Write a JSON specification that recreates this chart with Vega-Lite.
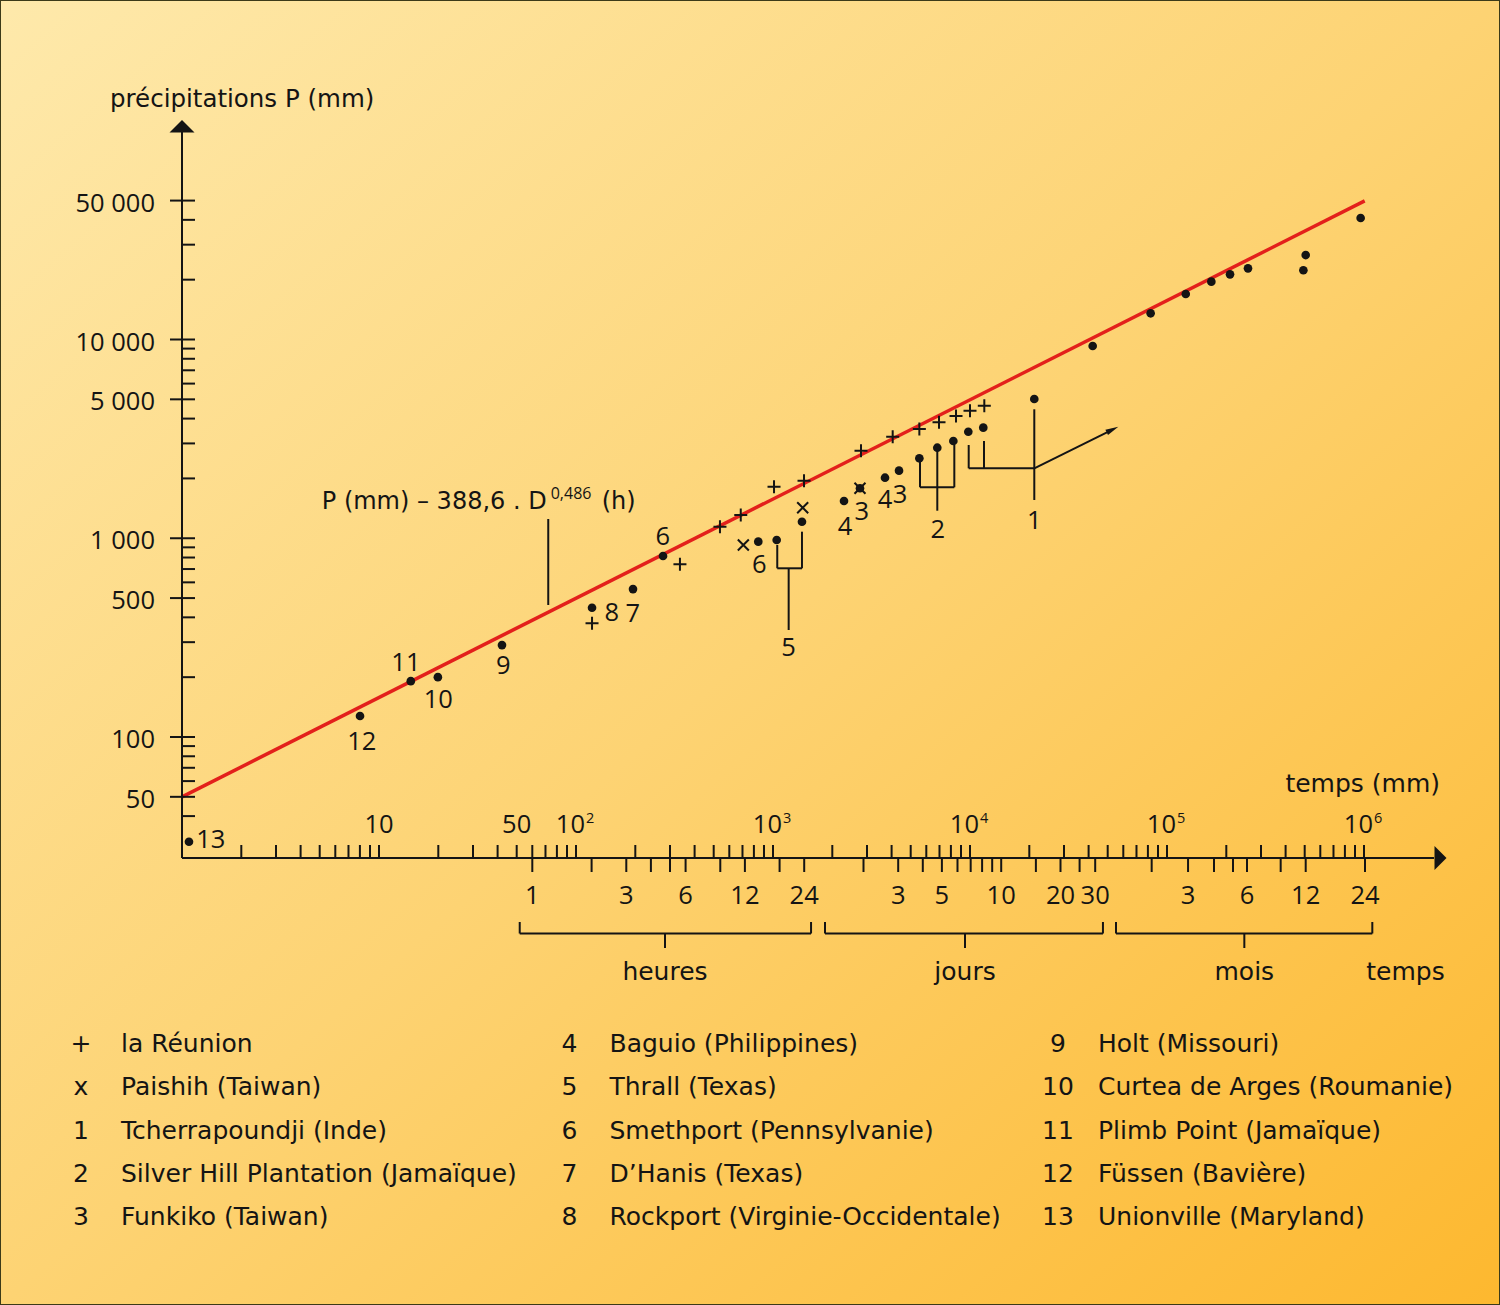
{
"$schema":"https://vega.github.io/schema/vega-lite/v6.json",
"width":1500,"height":1305,"autosize":{"type":"none"},"padding":0,
"background":"#fdd174",
"config":{
 "view":{"fill":{"gradient":"linear","x1":0,"y1":0,"x2":1,"y2":1,"stops":[{"offset":0,"color":"#fee9ab"},{"offset":0.5,"color":"#fdd373"},{"offset":1,"color":"#fdb82f"}]},"stroke":"#3c3a18","strokeWidth":2},
 "text":{"font":"DejaVu Sans","fontSize":25,"fill":"#141414"},
 "rule":{"stroke":"#141414","strokeWidth":2},
 "point":{"opacity":1}
},
"datasets":{
 "fit":[{"t":1,"P":50},{"t":1008000,"P":49800}],
 "pts":[
  {"t":1.085,"P":29.7,"sym":"dot"},{"t":8.01,"P":127.6,"sym":"dot"},{"t":14.5,"P":191,"sym":"dot"},{"t":19.9,"P":200,"sym":"dot"},
  {"t":42.1,"P":290,"sym":"dot"},{"t":120.6,"P":447,"sym":"dot"},{"t":194.7,"P":555,"sym":"dot"},{"t":276.5,"P":814,"sym":"dot"},
  {"t":842,"P":961,"sym":"dot"},{"t":1044,"P":980,"sym":"dot"},{"t":1403,"P":1211,"sym":"dot"},{"t":2293,"P":1539,"sym":"dot"},
  {"t":2764,"P":1784,"sym":"dot"},{"t":3703,"P":2017,"sym":"dot"},{"t":4362,"P":2188,"sym":"dot"},{"t":5532,"P":2525,"sym":"dot"},
  {"t":6823,"P":2855,"sym":"dot"},{"t":8231,"P":3085,"sym":"dot"},{"t":9804,"P":3436,"sym":"dot"},{"t":11680,"P":3600,"sym":"dot"},
  {"t":21200,"P":5020,"sym":"dot"},{"t":41950,"P":9270,"sym":"dot"},{"t":82600,"P":13545,"sym":"dot"},{"t":124500,"P":16940,"sym":"dot"},
  {"t":167900,"P":19540,"sym":"dot"},{"t":208900,"P":21280,"sym":"dot"},{"t":257700,"P":22800,"sym":"dot"},{"t":505900,"P":26600,"sym":"dot"},
  {"t":492300,"P":22300,"sym":"dot"},{"t":961500,"P":40850,"sym":"dot"},
  {"t":120.6,"P":373,"sym":"plus"},{"t":337,"P":740,"sym":"plus"},{"t":538,"P":1143,"sym":"plus"},{"t":686,"P":1309,"sym":"plus"},
  {"t":1012,"P":1815,"sym":"plus"},{"t":1437,"P":1949,"sym":"plus"},{"t":2797,"P":2758,"sym":"plus"},{"t":4051,"P":3243,"sym":"plus"},
  {"t":5532,"P":3545,"sym":"plus"},{"t":6961,"P":3831,"sym":"plus"},{"t":8492,"P":4121,"sym":"plus"},{"t":10000,"P":4386,"sym":"plus"},
  {"t":11820,"P":4645,"sym":"plus"},
  {"t":707,"P":925,"sym":"x"},{"t":1415,"P":1425,"sym":"x"},{"t":2764,"P":1784,"sym":"x"}
 ],
 "plab":[
  {"t":1.40,"P":27.5,"text":"13"},{"t":8.17,"P":86.0,"text":"12"},{"t":13.7,"P":214.8,"text":"11"},{"t":20.0,"P":139.4,"text":"10"},
  {"t":42.8,"P":207.5,"text":"9"},{"t":151.8,"P":384.8,"text":"8"},{"t":194.0,"P":380.2,"text":"7"},{"t":275.5,"P":925,"text":"6"},
  {"t":852,"P":671,"text":"6"},{"t":1201,"P":255.6,"text":"5"},{"t":2320,"P":1038.5,"text":"4"},{"t":2820,"P":1235.6,"text":"3"},
  {"t":3703,"P":1415,"text":"4"},{"t":4413,"P":1510,"text":"3"},{"t":6855,"P":999.4,"text":"2"},{"t":21200,"P":1109,"text":"1"}
 ],
 "seg":[
  {"t":1051,"P":925,"t2":1051,"P2":706},{"t":1403,"P":1079,"t2":1403,"P2":706},{"t":1051,"P":706,"t2":1403,"P2":706},{"t":1201,"P":706,"t2":1201,"P2":345.4},
  {"t":5575,"P":2428,"t2":5575,"P2":1805},{"t":6823,"P":2780,"t2":6823,"P2":1376},{"t":8325,"P":2945,"t2":8325,"P2":1805},{"t":5575,"P":1805,"t2":8325,"P2":1805},
  {"t":9849,"P":2945,"t2":9849,"P2":2249},{"t":11780,"P":3085,"t2":11780,"P2":2249},{"t":9849,"P":2249,"t2":21200,"P2":2249},{"t":21200,"P":4455,"t2":21200,"P2":1558},
  {"t":21200,"P":2249,"t2":52900,"P2":3522},
  {"t":72.3,"P":1250,"t2":72.3,"P2":461.6}
 ],
 "brk":[{"t":51.8,"t2":1560,"tc":283,"label":"heures"},{"t":1836,"t2":47300,"tc":9433,"label":"jours"},{"t":55100,"t2":1102000,"tc":246900,"label":"mois"}],
 "ytk":[
  {"P":40},{"P":50,"major":1,"lab":"50"},{"P":60},{"P":70},{"P":80},{"P":90},{"P":100,"major":1,"lab":"100"},
  {"P":200},{"P":300},{"P":400},{"P":500,"major":1,"lab":"500"},{"P":600},{"P":700},{"P":800},{"P":900},{"P":1000,"major":1,"lab":"1 000"},
  {"P":2000},{"P":3000},{"P":4000},{"P":5000,"major":1,"lab":"5 000"},{"P":6000},{"P":7000},{"P":8000},{"P":9000},{"P":10000,"major":1,"lab":"10 000"},
  {"P":20000},{"P":30000},{"P":40000},{"P":50000,"major":1,"lab":"50 000"}
 ],
 "xtk":[
  {"t":2},{"t":3},{"t":4},{"t":5},{"t":6},{"t":7},{"t":8},{"t":9},{"t":10},
  {"t":20},{"t":30},{"t":40},{"t":50},{"t":60},{"t":70},{"t":80},{"t":90},{"t":100},
  {"t":200},{"t":300},{"t":400},{"t":500},{"t":600},{"t":700},{"t":800},{"t":900},{"t":1000},
  {"t":2000},{"t":3000},{"t":4000},{"t":5000},{"t":6000},{"t":7000},{"t":8000},{"t":9000},{"t":10000},
  {"t":20000},{"t":30000},{"t":40000},{"t":50000},{"t":60000},{"t":70000},{"t":80000},{"t":90000},{"t":100000},
  {"t":200000},{"t":300000},{"t":400000},{"t":500000},{"t":600000},{"t":700000},{"t":800000},{"t":900000},{"t":1000000}
 ],
 "xbt":[
  {"t":60,"lab":"1"},{"t":120},{"t":180,"lab":"3"},{"t":240},{"t":300},{"t":360,"lab":"6"},{"t":540},{"t":720,"lab":"12"},{"t":1080},{"t":1440,"lab":"24"},
  {"t":2880},{"t":4320,"lab":"3"},{"t":5760},{"t":7200,"lab":"5"},{"t":8640},{"t":10080},{"t":11520},{"t":12960},{"t":14400,"lab":"10"},{"t":21600},{"t":28800,"lab":"20"},{"t":36000},{"t":43200,"lab":"30"},
  {"t":83600},{"t":127900,"lab":"3"},{"t":173200},{"t":216300},{"t":254700,"lab":"6"},{"t":377600},{"t":505900,"lab":"12"},{"t":1012000,"lab":"24"}
 ],
 "xup":[
  {"t":10,"lab":"10","pow":""},{"t":50,"lab":"50","pow":""},{"t":100,"lab":"10","pow":"2"},{"t":1000,"lab":"10","pow":"3"},
  {"t":10000,"lab":"10","pow":"4"},{"t":100000,"lab":"10","pow":"5"},{"t":1000000,"lab":"10","pow":"6"}
 ],
 "leg":[
  {"col":0,"row":0,"sym":"+","name":"la Réunion"},
  {"col":0,"row":1,"sym":"x","name":"Paishih (Taiwan)"},
  {"col":0,"row":2,"sym":"1","name":"Tcherrapoundji (Inde)"},
  {"col":0,"row":3,"sym":"2","name":"Silver Hill Plantation (Jamaïque)"},
  {"col":0,"row":4,"sym":"3","name":"Funkiko (Taiwan)"},
  {"col":1,"row":0,"sym":"4","name":"Baguio (Philippines)"},
  {"col":1,"row":1,"sym":"5","name":"Thrall (Texas)"},
  {"col":1,"row":2,"sym":"6","name":"Smethport (Pennsylvanie)"},
  {"col":1,"row":3,"sym":"7","name":"D’Hanis (Texas)"},
  {"col":1,"row":4,"sym":"8","name":"Rockport (Virginie-Occidentale)"},
  {"col":2,"row":0,"sym":"9","name":"Holt (Missouri)"},
  {"col":2,"row":1,"sym":"10","name":"Curtea de Arges (Roumanie)"},
  {"col":2,"row":2,"sym":"11","name":"Plimb Point (Jamaïque)"},
  {"col":2,"row":3,"sym":"12","name":"Füssen (Bavière)"},
  {"col":2,"row":4,"sym":"13","name":"Unionville (Maryland)"}
 ]
},
"resolve":{"scale":{"x":"independent","y":"independent"}},
"layer":[
 {
  "layer":[
   {"data":{"name":"fit"},"mark":{"type":"line","stroke":"#e3201b","strokeWidth":3.5},
    "encoding":{"x":{"field":"t","type":"quantitative","scale":{"type":"log","domain":[1,1000000],"range":[182,1364],"nice":false},"axis":null},"y":{"field":"P","type":"quantitative","scale":{"type":"log","domain":[100,10000],"range":[737,339.5],"nice":false},"axis":null}}},
   {"data":{"values":[{}]},"mark":{"type":"rule"},
    "encoding":{"x":{"datum":1,"type":"quantitative","scale":{"type":"log","domain":[1,1000000],"range":[182,1364],"nice":false},"axis":null},"y":{"datum":24.6,"type":"quantitative","scale":{"type":"log","domain":[100,10000],"range":[737,339.5],"nice":false},"axis":null},"y2":{"datum":110700}}},
   {"data":{"values":[{}]},"mark":{"type":"rule"},
    "encoding":{"x":{"datum":1,"type":"quantitative","scale":{"type":"log","domain":[1,1000000],"range":[182,1364],"nice":false},"axis":null},"x2":{"datum":2266000},"y":{"datum":24.6,"type":"quantitative","scale":{"type":"log","domain":[100,10000],"range":[737,339.5],"nice":false},"axis":null}}},
   {"data":{"values":[{}]},"mark":{"type":"point","shape":"M-0.5,-1L0.5,0L-0.5,1Z","size":576,"filled":true,"color":"#141414","opacity":1},
    "encoding":{"x":{"datum":2445000,"type":"quantitative","scale":{"type":"log","domain":[1,1000000],"range":[182,1364],"nice":false},"axis":null},"y":{"datum":24.6,"type":"quantitative","scale":{"type":"log","domain":[100,10000],"range":[737,339.5],"nice":false},"axis":null}}},
   {"data":{"values":[{}]},"mark":{"type":"point","shape":"M-1,0.5L0,-0.5L1,0.5Z","size":625,"filled":true,"color":"#141414","opacity":1},
    "encoding":{"x":{"datum":1,"type":"quantitative","scale":{"type":"log","domain":[1,1000000],"range":[182,1364],"nice":false},"axis":null},"y":{"datum":118300,"type":"quantitative","scale":{"type":"log","domain":[100,10000],"range":[737,339.5],"nice":false},"axis":null}}},
   {"data":{"name":"ytk"},"mark":{"type":"rule"},
    "encoding":{"x":{"datum":1,"type":"quantitative","scale":{"type":"log","domain":[1,1000000],"range":[182,1364],"nice":false},"axis":null},"x2":{"datum":1.164},"y":{"field":"P","type":"quantitative","scale":{"type":"log","domain":[100,10000],"range":[737,339.5],"nice":false},"axis":null}}},
   {"data":{"name":"ytk"},"transform":[{"filter":"datum.major==1"}],"mark":{"type":"rule"},
    "encoding":{"x":{"datum":0.869,"type":"quantitative","scale":{"type":"log","domain":[1,1000000],"range":[182,1364],"nice":false},"axis":null},"x2":{"datum":1},"y":{"field":"P","type":"quantitative","scale":{"type":"log","domain":[100,10000],"range":[737,339.5],"nice":false},"axis":null}}},
   {"data":{"name":"ytk"},"transform":[{"filter":"datum.major==1"}],"mark":{"type":"text","align":"right","baseline":"alphabetic","dx":-27,"dy":11,"font":"Open Sans","fontSize":25.5},
    "encoding":{"x":{"datum":1,"type":"quantitative","scale":{"type":"log","domain":[1,1000000],"range":[182,1364],"nice":false},"axis":null},"y":{"field":"P","type":"quantitative","scale":{"type":"log","domain":[100,10000],"range":[737,339.5],"nice":false},"axis":null},"text":{"field":"lab"}}},
   {"data":{"name":"xtk"},"mark":{"type":"rule"},
    "encoding":{"x":{"field":"t","type":"quantitative","scale":{"type":"log","domain":[1,1000000],"range":[182,1364],"nice":false},"axis":null},"y":{"datum":24.6,"type":"quantitative","scale":{"type":"log","domain":[100,10000],"range":[737,339.5],"nice":false},"axis":null},"y2":{"datum":28.62}}},
   {"data":{"name":"xbt"},"mark":{"type":"rule"},
    "encoding":{"x":{"field":"t","type":"quantitative","scale":{"type":"log","domain":[1,1000000],"range":[182,1364],"nice":false},"axis":null},"y":{"datum":24.6,"type":"quantitative","scale":{"type":"log","domain":[100,10000],"range":[737,339.5],"nice":false},"axis":null},"y2":{"datum":20.93}}},
   {"data":{"name":"xbt"},"transform":[{"filter":"isValid(datum.lab)"}],"mark":{"type":"text","align":"center","baseline":"alphabetic","dy":45.5,"font":"Open Sans","fontSize":25.5},
    "encoding":{"x":{"field":"t","type":"quantitative","scale":{"type":"log","domain":[1,1000000],"range":[182,1364],"nice":false},"axis":null},"y":{"datum":24.6,"type":"quantitative","scale":{"type":"log","domain":[100,10000],"range":[737,339.5],"nice":false},"axis":null},"text":{"field":"lab"}}},
   {"data":{"name":"xup"},"transform":[{"filter":"datum.pow==''"}],"mark":{"type":"text","align":"center","baseline":"alphabetic","dy":-25,"font":"Open Sans","fontSize":25.5},
    "encoding":{"x":{"field":"t","type":"quantitative","scale":{"type":"log","domain":[1,1000000],"range":[182,1364],"nice":false},"axis":null},"y":{"datum":24.6,"type":"quantitative","scale":{"type":"log","domain":[100,10000],"range":[737,339.5],"nice":false},"axis":null},"text":{"field":"lab"}}},
   {"data":{"name":"xup"},"transform":[{"filter":"datum.pow!=''"}],"mark":{"type":"text","align":"right","baseline":"alphabetic","dx":9,"dy":-25,"font":"Open Sans","fontSize":25.5},
    "encoding":{"x":{"field":"t","type":"quantitative","scale":{"type":"log","domain":[1,1000000],"range":[182,1364],"nice":false},"axis":null},"y":{"datum":24.6,"type":"quantitative","scale":{"type":"log","domain":[100,10000],"range":[737,339.5],"nice":false},"axis":null},"text":{"field":"lab"}}},
   {"data":{"name":"xup"},"transform":[{"filter":"datum.pow!=''"}],"mark":{"type":"text","align":"left","baseline":"alphabetic","dx":10,"dy":-35,"font":"Open Sans","fontSize":14.5},
    "encoding":{"x":{"field":"t","type":"quantitative","scale":{"type":"log","domain":[1,1000000],"range":[182,1364],"nice":false},"axis":null},"y":{"datum":24.6,"type":"quantitative","scale":{"type":"log","domain":[100,10000],"range":[737,339.5],"nice":false},"axis":null},"text":{"field":"pow"}}},
   {"data":{"name":"brk"},"mark":{"type":"rule"},
    "encoding":{"x":{"field":"t","type":"quantitative","scale":{"type":"log","domain":[1,1000000],"range":[182,1364],"nice":false},"axis":null},"x2":{"field":"t2"},"y":{"datum":10.264,"type":"quantitative","scale":{"type":"log","domain":[100,10000],"range":[737,339.5],"nice":false},"axis":null}}},
   {"data":{"name":"brk"},"mark":{"type":"rule"},
    "encoding":{"x":{"field":"t","type":"quantitative","scale":{"type":"log","domain":[1,1000000],"range":[182,1364],"nice":false},"axis":null},"y":{"datum":11.73,"type":"quantitative","scale":{"type":"log","domain":[100,10000],"range":[737,339.5],"nice":false},"axis":null},"y2":{"datum":10.264}}},
   {"data":{"name":"brk"},"mark":{"type":"rule"},
    "encoding":{"x":{"field":"t2","type":"quantitative","scale":{"type":"log","domain":[1,1000000],"range":[182,1364],"nice":false},"axis":null},"y":{"datum":11.73,"type":"quantitative","scale":{"type":"log","domain":[100,10000],"range":[737,339.5],"nice":false},"axis":null},"y2":{"datum":10.264}}},
   {"data":{"name":"brk"},"mark":{"type":"rule"},
    "encoding":{"x":{"field":"tc","type":"quantitative","scale":{"type":"log","domain":[1,1000000],"range":[182,1364],"nice":false},"axis":null},"y":{"datum":10.264,"type":"quantitative","scale":{"type":"log","domain":[100,10000],"range":[737,339.5],"nice":false},"axis":null},"y2":{"datum":8.677}}},
   {"data":{"name":"brk"},"mark":{"type":"text","align":"center","baseline":"alphabetic","dy":122},
    "encoding":{"x":{"field":"tc","type":"quantitative","scale":{"type":"log","domain":[1,1000000],"range":[182,1364],"nice":false},"axis":null},"y":{"datum":24.6,"type":"quantitative","scale":{"type":"log","domain":[100,10000],"range":[737,339.5],"nice":false},"axis":null},"text":{"field":"label"}}},
   {"data":{"name":"seg"},"mark":{"type":"rule"},
    "encoding":{"x":{"field":"t","type":"quantitative","scale":{"type":"log","domain":[1,1000000],"range":[182,1364],"nice":false},"axis":null},"y":{"field":"P","type":"quantitative","scale":{"type":"log","domain":[100,10000],"range":[737,339.5],"nice":false},"axis":null},"x2":{"field":"t2"},"y2":{"field":"P2"}}},
   {"data":{"values":[{}]},"mark":{"type":"point","shape":"M-1,-0.45L1,0L-1,0.45Z","size":169,"filled":true,"angle":-26.35,"color":"#141414","opacity":1},
    "encoding":{"x":{"datum":52900,"type":"quantitative","scale":{"type":"log","domain":[1,1000000],"range":[182,1364],"nice":false},"axis":null},"y":{"datum":3522,"type":"quantitative","scale":{"type":"log","domain":[100,10000],"range":[737,339.5],"nice":false},"axis":null}}},
   {"data":{"name":"pts"},"transform":[{"filter":"datum.sym=='dot'"}],"mark":{"type":"point","shape":"circle","filled":true,"size":75,"color":"#141414","opacity":1},
    "encoding":{"x":{"field":"t","type":"quantitative","scale":{"type":"log","domain":[1,1000000],"range":[182,1364],"nice":false},"axis":null},"y":{"field":"P","type":"quantitative","scale":{"type":"log","domain":[100,10000],"range":[737,339.5],"nice":false},"axis":null}}},
   {"data":{"name":"pts"},"transform":[{"filter":"datum.sym=='plus'"}],"mark":{"type":"point","shape":"M-1,0L1,0M0,-1L0,1","filled":false,"size":169,"strokeWidth":2,"color":"#141414","opacity":1},
    "encoding":{"x":{"field":"t","type":"quantitative","scale":{"type":"log","domain":[1,1000000],"range":[182,1364],"nice":false},"axis":null},"y":{"field":"P","type":"quantitative","scale":{"type":"log","domain":[100,10000],"range":[737,339.5],"nice":false},"axis":null}}},
   {"data":{"name":"pts"},"transform":[{"filter":"datum.sym=='x'"}],"mark":{"type":"point","shape":"M-1,-1L1,1M-1,1L1,-1","filled":false,"size":121,"strokeWidth":2,"color":"#141414","opacity":1},
    "encoding":{"x":{"field":"t","type":"quantitative","scale":{"type":"log","domain":[1,1000000],"range":[182,1364],"nice":false},"axis":null},"y":{"field":"P","type":"quantitative","scale":{"type":"log","domain":[100,10000],"range":[737,339.5],"nice":false},"axis":null}}},
   {"data":{"name":"plab"},"mark":{"type":"text","align":"center","baseline":"alphabetic","font":"Open Sans","fontSize":25.5},
    "encoding":{"x":{"field":"t","type":"quantitative","scale":{"type":"log","domain":[1,1000000],"range":[182,1364],"nice":false},"axis":null},"y":{"field":"P","type":"quantitative","scale":{"type":"log","domain":[100,10000],"range":[737,339.5],"nice":false},"axis":null},"text":{"field":"text"}}},
   {"data":{"values":[{}]},"mark":{"type":"text","align":"right","baseline":"alphabetic","text":"P (mm) – 388,6 . D","fontSize":24},
    "encoding":{"x":{"datum":71.0,"type":"quantitative","scale":{"type":"log","domain":[1,1000000],"range":[182,1364],"nice":false},"axis":null},"y":{"datum":1403.6,"type":"quantitative","scale":{"type":"log","domain":[100,10000],"range":[737,339.5],"nice":false},"axis":null}}},
   {"data":{"values":[{}]},"mark":{"type":"text","align":"left","baseline":"alphabetic","text":"0,486","dx":4,"dy":-10,"font":"Open Sans","fontSize":16},
    "encoding":{"x":{"datum":71.0,"type":"quantitative","scale":{"type":"log","domain":[1,1000000],"range":[182,1364],"nice":false},"axis":null},"y":{"datum":1403.6,"type":"quantitative","scale":{"type":"log","domain":[100,10000],"range":[737,339.5],"nice":false},"axis":null}}},
   {"data":{"values":[{}]},"mark":{"type":"text","align":"left","baseline":"alphabetic","text":"(h)","dx":55,"fontSize":24},
    "encoding":{"x":{"datum":71.0,"type":"quantitative","scale":{"type":"log","domain":[1,1000000],"range":[182,1364],"nice":false},"axis":null},"y":{"datum":1403.6,"type":"quantitative","scale":{"type":"log","domain":[100,10000],"range":[737,339.5],"nice":false},"axis":null}}},
   {"data":{"values":[{}]},"mark":{"type":"text","align":"left","baseline":"alphabetic","text":"précipitations P (mm)","dx":-72,"fontSize":24.5},
    "encoding":{"x":{"datum":1,"type":"quantitative","scale":{"type":"log","domain":[1,1000000],"range":[182,1364],"nice":false},"axis":null},"y":{"datum":148400,"type":"quantitative","scale":{"type":"log","domain":[100,10000],"range":[737,339.5],"nice":false},"axis":null}}},
   {"data":{"values":[{}]},"mark":{"type":"text","align":"right","baseline":"alphabetic","text":"temps (mm)","dx":76,"dy":-66.3},
    "encoding":{"x":{"datum":1000000,"type":"quantitative","scale":{"type":"log","domain":[1,1000000],"range":[182,1364],"nice":false},"axis":null},"y":{"datum":24.6,"type":"quantitative","scale":{"type":"log","domain":[100,10000],"range":[737,339.5],"nice":false},"axis":null}}},
   {"data":{"values":[{}]},"mark":{"type":"text","align":"center","baseline":"alphabetic","text":"temps","dx":41.5,"dy":122},
    "encoding":{"x":{"datum":1000000,"type":"quantitative","scale":{"type":"log","domain":[1,1000000],"range":[182,1364],"nice":false},"axis":null},"y":{"datum":24.6,"type":"quantitative","scale":{"type":"log","domain":[100,10000],"range":[737,339.5],"nice":false},"axis":null}}}
  ]
 },
 {
  "data":{"name":"leg"},
  "layer":[
   {"mark":{"type":"text","align":"left","baseline":"alphabetic"},
    "encoding":{"x":{"field":"col","type":"quantitative","scale":{"domain":[0,1],"range":[121,609.5],"nice":false,"zero":false},"axis":null},"y":{"field":"row","type":"quantitative","scale":{"domain":[0,4],"range":[1052.3,1225],"nice":false,"zero":false},"axis":null},"text":{"field":"name"}}},
   {"mark":{"type":"text","align":"center","baseline":"alphabetic","dx":-40},
    "encoding":{"x":{"field":"col","type":"quantitative","scale":{"domain":[0,1],"range":[121,609.5],"nice":false,"zero":false},"axis":null},"y":{"field":"row","type":"quantitative","scale":{"domain":[0,4],"range":[1052.3,1225],"nice":false,"zero":false},"axis":null},"text":{"field":"sym"}}}
  ]
 }
]
}
